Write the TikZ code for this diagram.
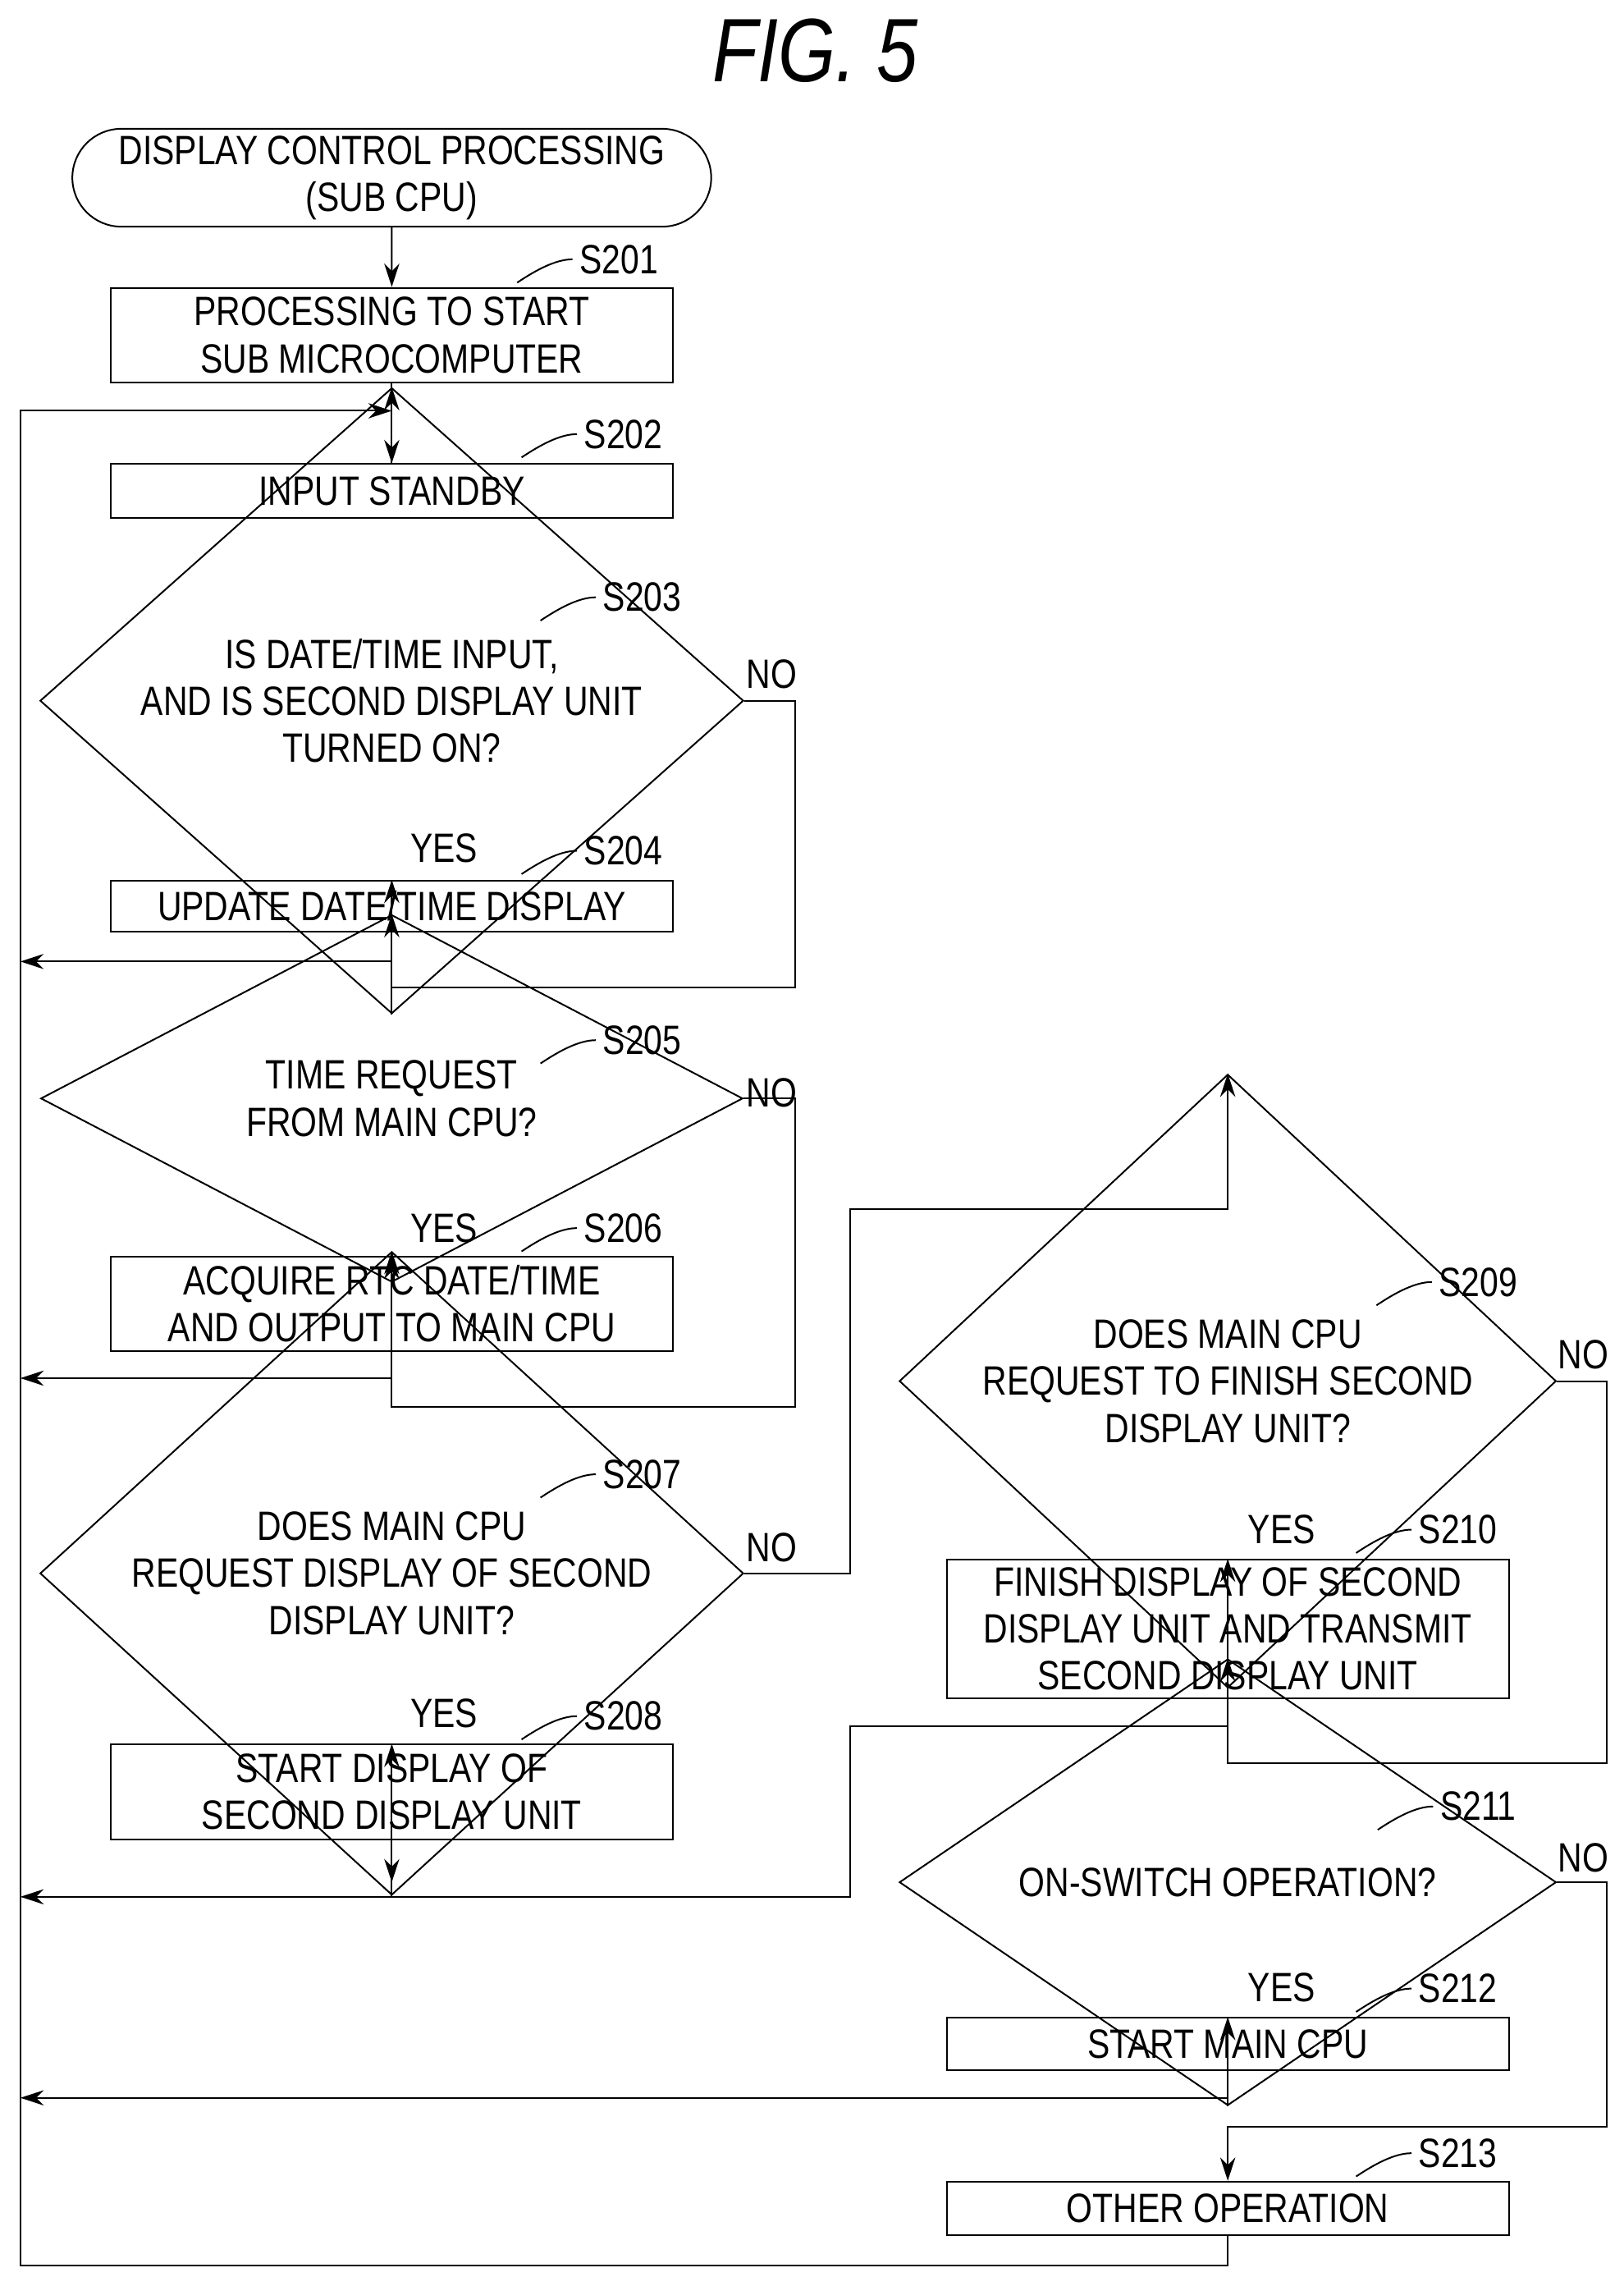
\documentclass[tikz,border=0pt]{standalone}
\usepackage{fontspec}
\setmainfont{Liberation Sans}[FakeStretch=0.82]
\usetikzlibrary{shapes.geometric,arrows.meta}
\tikzset{
  box/.style={draw, thick, rectangle, minimum width=96.5mm, inner sep=0pt, align=center, font=\fontsize{20}{23}\selectfont},
  bigbox/.style={box, minimum width=96.5mm},
  dec/.style={draw, thick, diamond, inner sep=0pt, align=center, font=\fontsize{20}{23}\selectfont},
  term/.style={draw, thick, rounded rectangle, minimum width=112mm, minimum height=16.25mm, align=center, font=\fontsize{20}{23}\selectfont},
  lbl/.style={font=\fontsize{20}{23}\selectfont},
  tie/.style={thick},
  flow/.style={thick, -{Stealth[length=4mm,width=2.6mm]}},
  line/.style={thick}
}
\usetikzlibrary{shapes.misc}
\begin{document}
\begin{tikzpicture}[x=0.25mm, y=-0.25mm]
  \useasboundingbox (0,0) rectangle (1115,1563);
  \node[font=\fontsize{44}{48}\selectfont\itshape] (fig) at (560,35) {FIG. 5};

  \node[term] (start) at (269,122) {DISPLAY CONTROL PROCESSING\\(SUB CPU)};
  \node[box, minimum height=16.25mm] (s201) at (269,230) {PROCESSING TO START\\SUB MICROCOMPUTER};
  \node[box, minimum height=9.25mm] (s202) at (269,337) {INPUT STANDBY};
  \node[dec, minimum width=120.75mm, minimum height=41.5mm] (d203) at (269,481) {IS DATE/TIME INPUT,\\AND IS SECOND DISPLAY UNIT\\TURNED ON?};
  \node[box, minimum height=8.75mm] (s204) at (269,622) {UPDATE DATE/TIME DISPLAY};
  \node[dec, minimum width=120.5mm, minimum height=21.25mm] (d205) at (269,754) {TIME REQUEST\\FROM MAIN CPU?};
  \node[box, minimum height=16.25mm] (s206) at (269,895) {ACQUIRE RTC DATE/TIME\\AND OUTPUT TO MAIN CPU};
  \node[dec, minimum width=120.75mm, minimum height=40mm] (d207) at (269,1080) {DOES MAIN CPU\\REQUEST DISPLAY OF SECOND\\DISPLAY UNIT?};
  \node[box, minimum height=16.25mm] (s208) at (269,1230) {START DISPLAY OF\\SECOND DISPLAY UNIT};
  \node[dec, minimum width=112.75mm, minimum height=41mm] (d209) at (843,948) {DOES MAIN CPU\\REQUEST TO FINISH SECOND\\DISPLAY UNIT?};
  \node[box, minimum height=23.75mm] (s210) at (843,1118) {FINISH DISPLAY OF SECOND\\DISPLAY UNIT AND TRANSMIT\\SECOND DISPLAY UNIT};
  \node[dec, minimum width=112.75mm, minimum height=26.25mm] (d211) at (843,1292) {ON-SWITCH OPERATION?};
  \node[box, minimum height=9mm] (s212) at (843,1403) {START MAIN CPU};
  \node[box, minimum height=9.25mm] (s213) at (843,1516) {OTHER OPERATION};

  % step labels
  \foreach \n/\x/\y in {201/425/178, 202/428/298, 203/441/410, 204/428/584, 205/441/714,
      206/428/843, 207/441/1012, 208/428/1178, 209/1015/880, 210/1001/1050,
      211/1015/1240, 212/1001/1365, 213/1001/1478}{
    \node[lbl] (l\n) at (\x,\y) {S\n};
    \draw[tie] (l\n.west) .. controls +(-12,0) and +(12,-8) .. ++(-38,16);
  }
  \foreach \n/\x/\y in {203/530/463, 205/530/750, 207/530/1062, 209/1087/930, 211/1087/1275}
    \node[lbl] (no\n) at (\x,\y) {NO};
  \foreach \n/\x/\y in {203/305/582, 205/305/843, 207/305/1176, 209/880/1050, 211/880/1364}
    \node[lbl] (yes\n) at (\x,\y) {YES};

  % helper points
  \coordinate (j202) at (269,282);
  \coordinate (j208) at (269,1302);
  \coordinate (j210) at (584,1302);

  \draw[flow] (start) -- (s201);
  \draw[flow] (s201) -- (s202);
  \draw[flow] (s202) -- (d203);
  \draw[flow] (d203) -- (s204);
  \draw[flow] (s204.south) |- (14,660);
  \draw[flow] (d203.east) -| (546,678) -| (d205.north);
  \draw[flow] (d205) -- (s206);
  \draw[flow] (s206.south) |- (14,946);
  \draw[flow] (d205.east) -| (546,966) -| (d207.north);
  \draw[flow] (d207) -- (s208);
  \draw[flow] (d207.east) -| (584,830) -| (d209.north);
  \draw[flow] (s208.south) -- (269,1292);
  \draw[flow] (d209) -- (s210);
  \draw[flow] (s210.south) |- (584,1185) -- (j210) -- (14,1302);
  \draw[flow] (d209.east) -| (1103,1210) -| (d211.north);
  \draw[flow] (d211) -- (s212);
  \draw[flow] (s212.south) |- (14,1440);
  \draw[flow] (d211.east) -| (1103,1460) -| (s213.north);
  \draw[flow] (s213.south) |- (14,1555) -- (14,282) -- (j202);
\end{tikzpicture}
\end{document}
